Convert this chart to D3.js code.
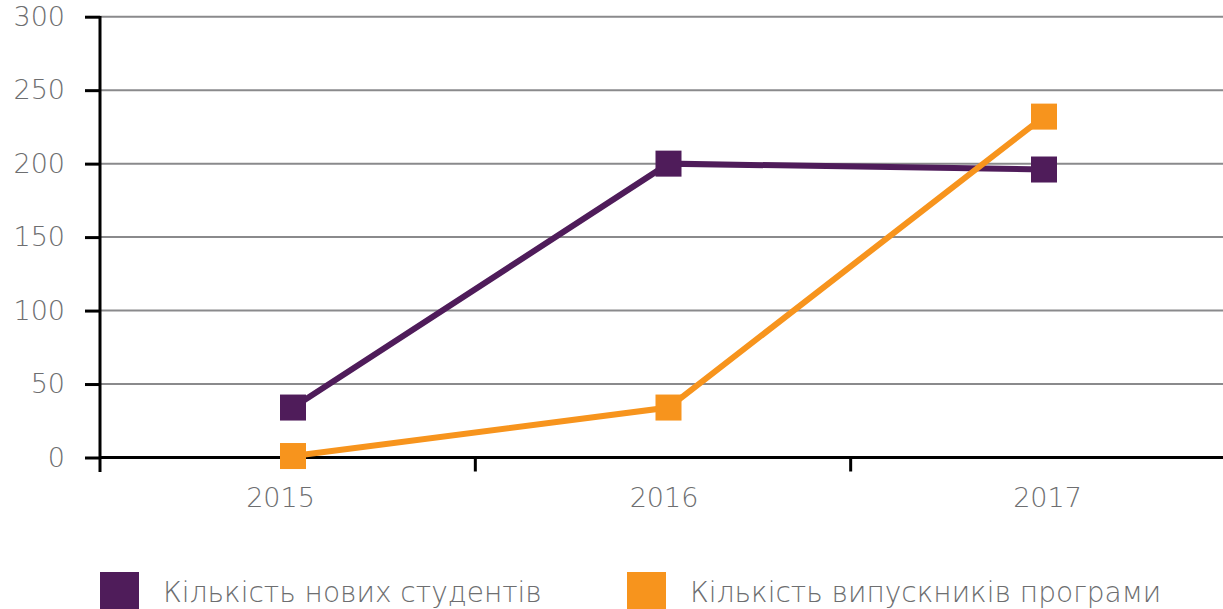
<!DOCTYPE html>
<html><head><meta charset="utf-8">
<script src="https://cdn.jsdelivr.net/npm/d3@7"></script>
<style>
html,body{margin:0;padding:0;background:#fff;}
svg{display:block;}
text{font-family:"DejaVu Sans",sans-serif;font-weight:200;fill:#6d6e70;}
</style></head>
<body>
<svg id="c" width="1223" height="609"></svg>
<script>
const years = ["2015","2016","2017"];
const newStudents = [34, 200, 196];
const graduates = [1, 34, 232];
const yTicks = [0, 50, 100, 150, 200, 250, 300];
const seriesNames = ["Кількість нових студентів", "Кількість випускників програми"];
const colors = ["#4f1c5a", "#f7941d"];

const svg = d3.select("#c");
const y = d3.scaleLinear().domain([0, 300]).range([457.5, 16.7]);
const xBand = d3.scaleBand().domain(years).range([100, 1226]).padding(0);
const xPt = d3.scalePoint().domain(years).range([293, 1044]);
const xLab = d3.scalePoint().domain(years).range([280, 1047]);

// gridlines
svg.append("g").selectAll("line").data(yTicks.slice(1)).join("line")
  .attr("x1", 100).attr("x2", 1223)
  .attr("y1", d => y(d)).attr("y2", d => y(d))
  .attr("stroke", "#8a8a8c").attr("stroke-width", 2);

// y axis
const ya = svg.append("g").attr("transform", "translate(100,0)")
  .call(d3.axisLeft(y).tickValues(yTicks).tickSize(15).tickPadding(20));
ya.select(".domain").remove();
ya.selectAll(".tick line").attr("stroke", "#000").attr("stroke-width", 3);
ya.selectAll(".tick text").attr("font-size", 27).style("font-family", "DejaVu Sans").style("font-weight", 200).attr("fill", "#6d6e70");
svg.append("line").attr("x1", 100).attr("x2", 100).attr("y1", 16).attr("y2", 472)
  .attr("stroke", "#000").attr("stroke-width", 3);

// x axis
const xa = svg.append("g").attr("transform", `translate(0,${y(0)})`)
  .call(d3.axisBottom(xLab).tickSize(0).tickPadding(30));
xa.select(".domain").remove();
xa.selectAll(".tick text").attr("font-size", 27).style("font-family", "DejaVu Sans").style("font-weight", 200).attr("fill", "#6d6e70");
svg.append("line").attr("x1", 100).attr("x2", 1223).attr("y1", y(0)).attr("y2", y(0))
  .attr("stroke", "#000").attr("stroke-width", 3);
svg.append("g").selectAll("line").data(years).join("line")
  .attr("x1", d => xBand(d) + xBand.bandwidth())
  .attr("x2", d => xBand(d) + xBand.bandwidth())
  .attr("y1", y(0)).attr("y2", y(0) + 14)
  .attr("stroke", "#000").attr("stroke-width", 3);

// series
const series = [newStudents, graduates];
const line = d3.line().x((d, i) => xPt(years[i])).y(d => y(d));
series.forEach((vals, s) => {
  svg.append("path").datum(vals).attr("d", line)
    .attr("fill", "none").attr("stroke", colors[s]).attr("stroke-width", 6);
});
series.forEach((vals, s) => {
  svg.append("g").selectAll("rect").data(vals).join("rect")
    .attr("x", (d, i) => xPt(years[i]) - 13).attr("y", d => y(d) - 13)
    .attr("width", 26).attr("height", 26).attr("fill", colors[s]);
});

// legend
const legX = [100, 627];
seriesNames.forEach((n, i) => {
  svg.append("rect").attr("x", legX[i]).attr("y", 572).attr("width", 39).attr("height", 40).attr("fill", colors[i]);
  svg.append("text").attr("x", legX[i] + 63).attr("y", 602).attr("font-size", 28).text(n);
});
</script>
</body></html>
